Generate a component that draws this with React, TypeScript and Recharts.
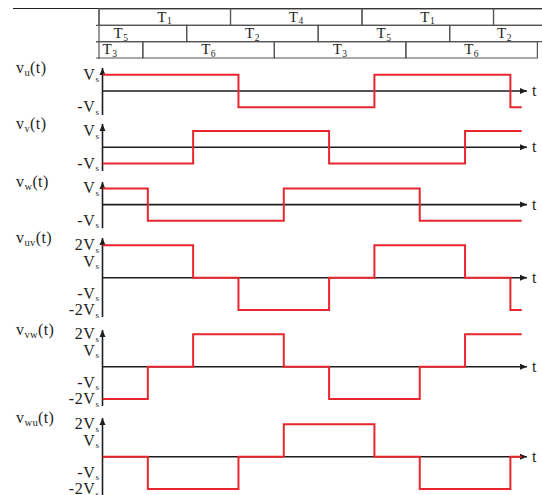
import React from 'react';
import { LineChart, ComposedChart, Line, XAxis, YAxis, ReferenceLine, ReferenceDot, ReferenceArea } from 'recharts';

// phase angle (deg) where the step waveforms change
const angles = [0, 60, 120, 180, 240, 300, 360, 420, 480, 540, 555];
// phase voltages, in units of Vs
const vu = [1, 1, 1, -1, -1, -1, 1, 1, 1, -1, -1];
const vv = [-1, -1, 1, 1, 1, -1, -1, -1, 1, 1, 1];
const vw = [1, -1, -1, -1, 1, 1, 1, -1, -1, -1, -1];
// line voltages
const vuv = [2, 2, 0, -2, -2, 0, 2, 2, 0, -2, -2];
const vvw = [-2, 0, 2, 2, 0, -2, -2, 0, 2, 2, 2];
const vwu = [0, -2, -2, 0, 2, 2, 0, -2, -2, 0, 0];

const phaseTicks = [1, -1];
const lineTicks = [2, 1, -1, -2];

// switch conduction table
const row1Names = ['T1', 'T4', 'T1', 'T4'];
const row1Edges = [0, 180, 360, 540, 720];
const row1LabelAt = [90, 270, 450, 630];
const row2Names = ['T5', 'T2', 'T5', 'T2'];
const row2Edges = [-60, 120, 300, 480, 660];
const row2LabelAt = [30, 210, 390, 555];
const row3Names = ['T3', 'T6', 'T3', 'T6'];
const row3Edges = [-120, 60, 240, 420, 600];
const row3LabelAt = [15, 150, 330, 510];

const W = 542;
const H = 495;
const SERIF = '"Liberation Serif", "DejaVu Serif", serif';
const RED = '#e8262e';
const INK = '#1e1e1e';
const GRID = '#555';

const T_X0 = 99; // 0 deg in the table
const T_PX = 0.7306; // px per degree in the table
const W_X0 = 102.5; // 0 deg in the waveforms
const W_X1 = 527; // t-axis arrow tip
const DEG_END = 562;
const VS_PX = 16.2;

const plots = [
  { sub: 'u', values: vu, ticks: phaseTicks, top: 68, zero: 91, bottom: 115 },
  { sub: 'v', values: vv, ticks: phaseTicks, top: 124, zero: 147.3, bottom: 171 },
  { sub: 'w', values: vw, ticks: phaseTicks, top: 181.7, zero: 204.3, bottom: 228 },
  { sub: 'uv', values: vuv, ticks: lineTicks, top: 238, zero: 277.7, bottom: 317 },
  { sub: 'vw', values: vvw, ticks: lineTicks, top: 330, zero: 366.7, bottom: 406 },
  { sub: 'wu', values: vwu, ticks: lineTicks, top: 418, zero: 456.7, bottom: 495 },
];

function VTick(props: any) {
  const { x, y, payload } = props;
  const v = payload.value;
  const head = (v < 0 ? '-' : '') + (Math.abs(v) === 2 ? '2' : '') + 'V';
  return (
    <text x={x} y={y + 5} textAnchor="end" fontFamily={SERIF} fontSize={16} letterSpacing={0.6} fill={INK}>
      <tspan>{head}</tspan>
      <tspan fontSize={9} dy={2.5}>s</tspan>
    </text>
  );
}

const UpArrow = (p: any) => (
  <path d={`M${p.cx},${p.cy} L${p.cx - 3},${p.cy + 7} L${p.cx + 3},${p.cy + 7} Z`} fill={INK} />
);
const RightArrow = (p: any) => (
  <path d={`M${p.cx},${p.cy} L${p.cx - 7},${p.cy - 3} L${p.cx - 7},${p.cy + 3} Z`} fill={INK} />
);

function Wave({ p }: { p: (typeof plots)[number] }) {
  const pad = 10;
  const yw = 40;
  const height = p.bottom - p.top + 2 * pad;
  const hi = (p.zero - p.top) / VS_PX;
  const lo = -(p.bottom - p.zero) / VS_PX;
  const data = angles.map((deg, i) => ({ deg, v: p.values[i] }));
  const right = W - W_X1;
  return (
    <div style={{ position: 'absolute', left: 0, top: p.top - pad, width: W, height }}>
      {/* axes, ticks and names underneath */}
      <div style={{ position: 'absolute', left: 0, top: 0 }}>
        <LineChart width={W} height={height} data={data}
          margin={{ top: pad, bottom: pad, left: W_X0 - yw, right }}>
          <XAxis type="number" dataKey="deg" domain={[0, DEG_END]} hide allowDataOverflow />
          <YAxis type="number" domain={[lo, hi]} ticks={p.ticks} interval={0} width={yw} allowDataOverflow
            axisLine={{ stroke: INK, strokeWidth: 1.6 }} tickLine={false} tickSize={3} tickMargin={0}
            tick={<VTick />}
            label={{
              content: () => (
                <text x={16} y={pad + 5} fontFamily={SERIF} fontSize={16} letterSpacing={0.4} fill={INK}>
                  <tspan>v</tspan>
                  <tspan fontSize={10.5} dy={3}>{p.sub}</tspan>
                  <tspan dy={-3}>(t)</tspan>
                </text>
              ),
            }} />
          <ReferenceLine y={0} stroke={INK} strokeWidth={1.6}
            label={{
              content: (lp: any) => (
                <text x={lp.viewBox.x + lp.viewBox.width + 5} y={lp.viewBox.y + 5}
                  fontFamily={SERIF} fontSize={16} fill={INK}>t</text>
              ),
            }} />
          <ReferenceDot x={0} y={hi} shape={UpArrow} />
          <ReferenceDot x={DEG_END} y={0} shape={RightArrow} />
        </LineChart>
      </div>
      {/* red waveform on top of the time axis */}
      <div style={{ position: 'absolute', left: 0, top: 0 }}>
        <LineChart width={W} height={height} data={data}
          margin={{ top: pad, bottom: pad, left: W_X0, right }}>
          <XAxis type="number" dataKey="deg" domain={[0, DEG_END]} hide allowDataOverflow />
          <YAxis type="number" domain={[lo, hi]} hide allowDataOverflow />
          <Line type="stepAfter" dataKey="v" stroke={RED} strokeWidth={2} dot={false} isAnimationActive={false} />
        </LineChart>
      </div>
    </div>
  );
}

const tableRows = [
  { names: row1Names, edges: row1Edges, labelAt: row1LabelAt },
  { names: row2Names, edges: row2Edges, labelAt: row2LabelAt },
  { names: row3Names, edges: row3Edges, labelAt: row3LabelAt },
];

function SwitchTable() {
  const xMin = -4;
  const xMax = (W - T_X0) / T_PX;
  const left = T_X0 + xMin * T_PX;
  return (
    <div style={{ position: 'absolute', left: 0, top: 0 }}>
      <ComposedChart width={W} height={70} data={row1Edges.map((x) => ({ x }))}
        margin={{ top: 8, bottom: 11, left, right: 0 }}>
        <XAxis type="number" dataKey="x" domain={[xMin, xMax]} hide allowDataOverflow />
        <YAxis type="number" domain={[-0.06, 3.06]} hide allowDataOverflow />
        {tableRows.map((row, i) =>
          row.names.map((name, j) => (
            <ReferenceArea key={`a${i}-${j}`} x1={row.edges[j]} x2={row.edges[j + 1]} y1={2 - i} y2={3 - i}
              fill="none" stroke={GRID} strokeWidth={1.2} ifOverflow="hidden" />
          ))
        )}
        <ReferenceLine x={0} stroke={GRID} strokeWidth={1.2} />
        {tableRows.map((row, i) =>
          row.names.map((name, j) => (
            <ReferenceDot key={`t${i}-${j}`} x={row.labelAt[j]} y={2.5 - i}
              shape={(sp: any) => (
                <text x={sp.cx} y={sp.cy + 4.5} textAnchor="middle" fontFamily={SERIF} fontSize={15}
                  letterSpacing={0.5} fill={INK}>
                  <tspan>{name[0]}</tspan>
                  <tspan fontSize={9.5} dy={2.5}>{name.slice(1)}</tspan>
                </text>
              )} />
          ))
        )}
      </ComposedChart>
    </div>
  );
}

export default function App() {
  return (
    <div style={{ position: 'absolute', left: 0, top: 0, width: W, height: H, overflow: 'hidden', background: '#fff' }}>
      <div style={{ position: 'absolute', left: 13, top: 8, width: W - 13, borderTop: `1.3px solid ${INK}` }} />
      <SwitchTable />
      {plots.map((p) => (
        <Wave key={p.sub} p={p} />
      ))}
    </div>
  );
}
